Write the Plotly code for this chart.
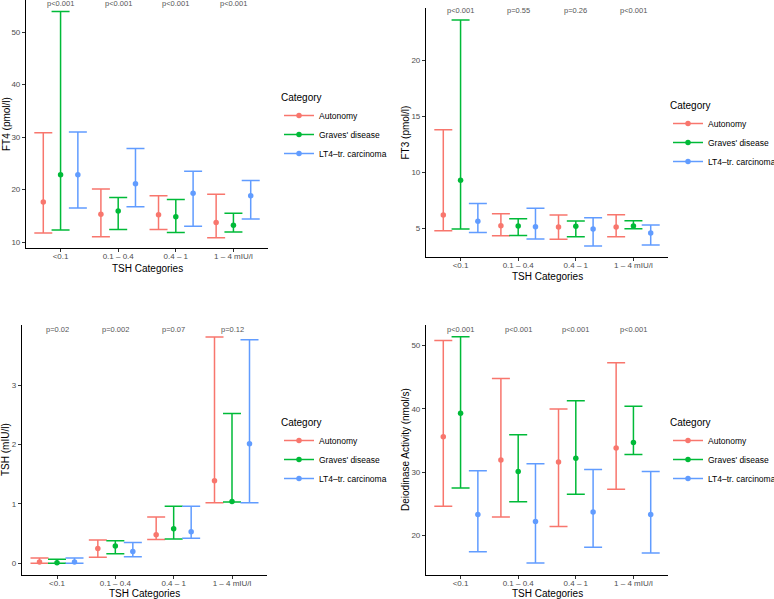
import plotly.graph_objects as go

# TSH categories (x axis) and groups
CATEGORIES = ['<0.1', '0.1 – 0.4', '0.4 – 1', '1 – 4 mIU/l']
GROUPS = ['Autonomy', "Graves' disease", 'LT4–tr. carcinoma']
COLORS = ['#F8766D', '#00BA38', '#619CFF']

# FT4 (pmol/l): mean, lower, upper per group, one value per TSH category
FT4_MEAN = [[17.6, 15.3, 15.2, 13.7], [22.8, 15.9, 14.8, 13.2], [22.8, 21.1, 19.3, 18.8]]
FT4_LOW = [[11.7, 11.0, 12.4, 10.8], [12.3, 12.4, 11.8, 11.9], [16.5, 16.7, 13.0, 14.4]]
FT4_HIGH = [[30.8, 20.1, 18.8, 19.1], [53.9, 18.5, 18.1, 15.5], [30.95, 27.8, 23.5, 21.7]]
FT4_P = ['p<0.001', 'p<0.001', 'p<0.001', 'p<0.001']

# FT3 (pmol/l)
FT3_MEAN = [[6.16, 5.2, 5.09, 5.09], [9.27, 5.18, 5.15, 5.18], [5.6, 5.12, 4.91, 4.55]]
FT3_LOW = [[4.76, 4.31, 3.99, 4.22], [4.91, 4.34, 4.22, 4.94], [4.6, 4.01, 3.39, 3.48]]
FT3_HIGH = [[13.8, 6.28, 6.16, 6.19], [23.6, 5.84, 5.63, 5.66], [7.2, 6.76, 5.93, 5.27]]
FT3_P = ['p<0.001', 'p=0.55', 'p=0.26', 'p<0.001']

# TSH (mIU/l)
TSH_MEAN = [[0.02, 0.25, 0.48, 1.39], [0.01, 0.29, 0.58, 1.04], [0.02, 0.20, 0.53, 2.01]]
TSH_LOW = [[0.0, 0.10, 0.40, 1.02], [0.0, 0.16, 0.41, 1.03], [0.0, 0.11, 0.42, 1.02]]
TSH_HIGH = [[0.09, 0.39, 0.78, 3.81], [0.07, 0.38, 0.96, 2.52], [0.09, 0.35, 0.96, 3.76]]
TSH_P = ['p=0.02', 'p=0.002', 'p=0.07', 'p=0.12']

# Deiodinase activity (nmol/s)
DEIO_MEAN = [[35.6, 31.9, 31.6, 33.8], [39.3, 30.1, 32.2, 34.7], [23.3, 22.2, 23.7, 23.3]]
DEIO_LOW = [[24.6, 22.9, 21.4, 27.3], [27.5, 25.3, 26.5, 32.8], [17.4, 15.6, 18.1, 17.2]]
DEIO_HIGH = [[50.8, 44.8, 40.0, 47.3], [51.4, 35.9, 41.3, 40.4], [30.2, 31.3, 30.4, 30.1]]
DEIO_P = ['p<0.001', 'p<0.001', 'p<0.001', 'p<0.001']

FONT = 'Liberation Sans, Arial, sans-serif'
W, H = 774, 599
DODGE = 0.3

# panel geometry in pixels: (left, right, top, bottom)
panels = [
    dict(mean=FT4_MEAN, low=FT4_LOW, high=FT4_HIGH, p=FT4_P, title='FT4 (pmol/l)',
         box=(26, 268, 0, 248), yrange=[8.86, 56.1], ticks=[10, 20, 30, 40, 50],
         py=55.5, ytitle_x=6, xtitle_y=268, legend=(279, 88)),
    dict(mean=FT3_MEAN, low=FT3_LOW, high=FT3_HIGH, p=FT3_P, title='FT3 (pmol/l)',
         box=(426, 668, 8, 257), yrange=[2.41, 24.68], ticks=[5, 10, 15, 20],
         py=24.5, ytitle_x=405, xtitle_y=277, legend=(668, 96)),
    dict(mean=TSH_MEAN, low=TSH_LOW, high=TSH_HIGH, p=TSH_P, title='TSH (mIU/l)',
         box=(22, 267, 325, 575), yrange=[-0.197, 4.01], ticks=[0, 1, 2, 3],
         py=3.93, ytitle_x=5, xtitle_y=593, legend=(279, 413)),
    dict(mean=DEIO_MEAN, low=DEIO_LOW, high=DEIO_HIGH, p=DEIO_P,
         title='Deiodinase Activity (nmol/s)',
         box=(426, 668, 325, 575), yrange=[13.72, 53.27], ticks=[20, 30, 40, 50],
         py=52.5, ytitle_x=405, xtitle_y=593, legend=(668, 413)),
]

fig = go.Figure()
annotations = []

for k, pan in enumerate(panels):
    n = '' if k == 0 else str(k + 1)
    xa, ya = 'x' + n, 'y' + n
    legend_name = 'legend' + n
    for g, group in enumerate(GROUPS):
        for c in range(len(CATEGORIES)):
            m = pan['mean'][g][c]
            fig.add_trace(go.Scatter(
                x=[c + 1 + (g - 1) * DODGE], y=[m],
                mode='lines+markers',
                name=group, legendgroup=group + n, legend=legend_name,
                showlegend=(c == 0),
                marker=dict(color=COLORS[g], size=5.5),
                line=dict(color=COLORS[g], width=1.5),
                error_y=dict(type='data', symmetric=False,
                             array=[pan['high'][g][c] - m],
                             arrayminus=[m - pan['low'][g][c]],
                             color=COLORS[g], thickness=1.5, width=9),
                xaxis=xa, yaxis=ya, hoverinfo='skip',
            ))
    l, r, t, b = pan['box']
    axis_common = dict(showline=True, linecolor='black', linewidth=1.2,
                       ticks='outside', ticklen=3, tickcolor='#333333',
                       tickfont=dict(family=FONT, size=8, color='#4d4d4d'),
                       showgrid=False, zeroline=False)
    fig.update_layout({
        'xaxis' + n: dict(domain=[l / W, r / W], range=[0.4, 4.6],
                          tickvals=[1, 2, 3, 4], ticktext=CATEGORIES,
                          ticklabelstandoff=-3, anchor=ya, **axis_common),
        'yaxis' + n: dict(domain=[1 - b / H, 1 - t / H], range=pan['yrange'],
                          tickvals=pan['ticks'], anchor=xa, **axis_common),
        legend_name: dict(x=pan['legend'][0] / W, y=1 - pan['legend'][1] / H,
                          xanchor='left', yanchor='top',
                          title=dict(text='Category',
                                     font=dict(family=FONT, size=10, color='black')),
                          font=dict(family=FONT, size=8.5, color='black'),
                          bgcolor='rgba(0,0,0,0)', tracegroupgap=0),
    })
    for c, ptxt in enumerate(pan['p']):
        annotations.append(dict(x=c + 1, y=pan['py'], xref=xa, yref=ya,
                                text=ptxt, showarrow=False,
                                xanchor='center', yanchor='middle',
                                font=dict(family=FONT, size=7.5, color='#555555')))
    annotations.append(dict(x=(l + r) / 2 / W, y=1 - pan['xtitle_y'] / H,
                            xref='paper', yref='paper', text='TSH Categories',
                            showarrow=False, xanchor='center', yanchor='middle',
                            font=dict(family=FONT, size=10, color='black')))
    annotations.append(dict(x=pan['ytitle_x'] / W, y=1 - (t + b) / 2 / H,
                            xref='paper', yref='paper', text=pan['title'],
                            textangle=-90, showarrow=False,
                            xanchor='center', yanchor='middle',
                            font=dict(family=FONT, size=10, color='black')))

fig.update_layout(
    width=W, height=H,
    # keep the plot area fixed; legends may run past the right edge as in the original
    margin=dict(l=0, r=0, t=0, b=0, autoexpand=False),
    paper_bgcolor='white', plot_bgcolor='white',
    annotations=annotations,
    font=dict(family=FONT),
)

# drop the browser's default 8px body margin so the figure sits at (0, 0)
fig.write_html('out.html', config={'displayModeBar': False},
               post_script="document.body.style.margin='0';")
